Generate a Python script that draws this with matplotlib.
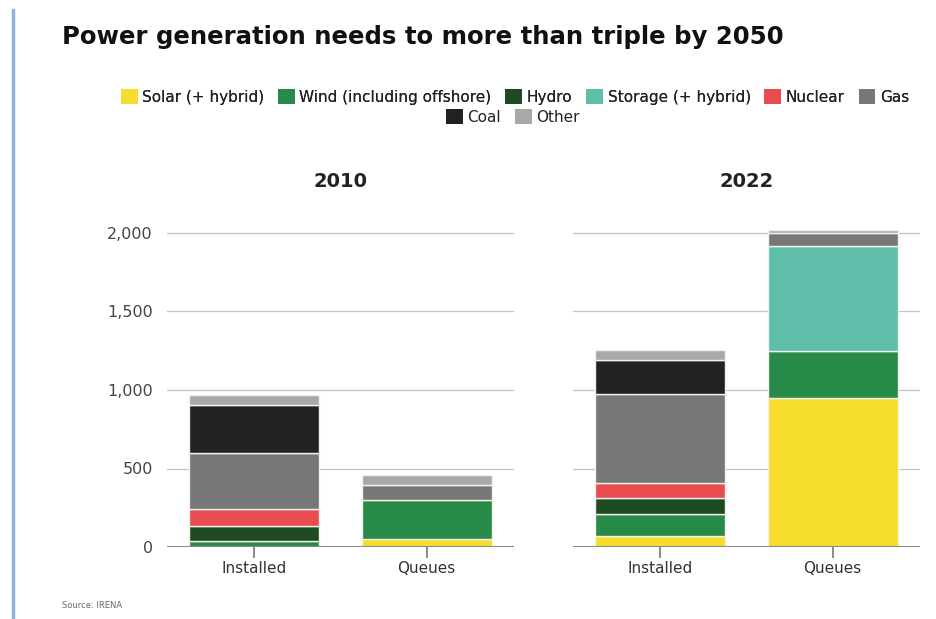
import matplotlib.pyplot as plt
from matplotlib.patches import Patch
from matplotlib.lines import Line2D

plt.rcParams["font.family"] = ["DejaVu Sans"]

# data (GW)
sources = ["Solar (+ hybrid)", "Wind (including offshore)", "Hydro", "Storage (+ hybrid)",
           "Nuclear", "Gas", "Coal", "Other"]
colors = ["#f6dc2c", "#288a48", "#1e4a24", "#5fbeaa", "#e84c51", "#777777", "#222222", "#a8a8a8"]
categories = ["Installed", "Queues"]
years = ["2010", "2022"]

installed_2010 = [0, 40, 95, 0, 105, 360, 305, 65]
queues_2010 = [50, 250, 0, 0, 0, 95, 0, 62]
installed_2022 = [72, 138, 100, 0, 100, 567, 212, 68]
queues_2022 = [950, 297, 0, 670, 0, 85, 0, 20]

panels = {
    "2010": [installed_2010, queues_2010],
    "2022": [installed_2022, queues_2022],
}
yticks = [0, 500, 1000, 1500, 2000]

fig = plt.figure(figsize=(9.37, 6.19), dpi=100)

ax_bottom = 1 - 547 / 619
ax_height = 2100 * 0.157 / 619
ax_left = fig.add_axes([166.7 / 937, ax_bottom, 347 / 937, ax_height])
ax_right = fig.add_axes([572.7 / 937, ax_bottom, 347 / 937, ax_height])

for ax, year in zip([ax_left, ax_right], years):
    for xi, vals in enumerate(panels[year]):
        base = 0
        for v, c in zip(vals, colors):
            if v <= 0:
                continue
            ax.bar(xi, v, bottom=base, width=0.75, color=c, edgecolor="#f2f2ea",
                   linewidth=1.0, zorder=3)
            base += v
    ax.set_xlim(-0.503, 1.503)
    ax.set_ylim(0, 2100)
    ax.set_yticks(yticks)
    for t in yticks[1:]:
        ax.axhline(t, color="#c4c4c4", lw=0.9, zorder=1)
    ax.axhline(0, color="#8a8a8a", lw=2.2, zorder=4)
    for s in ax.spines.values():
        s.set_visible(False)
    ax.set_xticks([0, 1])
    ax.set_xticklabels(categories, fontsize=11, color="#333333")
    ax.tick_params(axis="x", length=8, width=1.2, color="#777777", pad=2)
    ax.set_title(year, fontsize=14, fontweight="bold", color="#222222", pad=22)

ax_left.set_yticklabels([f"{t:,}" for t in yticks], fontsize=11.5, color="#444444")
ax_left.tick_params(axis="y", length=0, pad=10)
ax_right.tick_params(axis="y", length=0, labelleft=False)

fig.text(62 / 937, 1 - 37 / 619, "Power generation needs to more than triple by 2050",
         fontsize=17.6, fontweight="heavy", color="#111111", va="center", ha="left")

handles = [Patch(facecolor=c, edgecolor="none") for c in colors]
leg1 = fig.legend(handles[:6], sources[:6], loc="center", bbox_to_anchor=(515 / 937, 1 - 97 / 619),
                  ncol=6, frameon=False, fontsize=11, handlelength=1.1, handleheight=1.1,
                  handletextpad=0.3, columnspacing=0.9, labelcolor="#222222")
fig.add_artist(leg1)
fig.legend(handles[6:], sources[6:], loc="center", bbox_to_anchor=(513 / 937, 1 - 117 / 619),
           ncol=2, frameon=False, fontsize=11, handlelength=1.1, handleheight=1.1,
           handletextpad=0.3, columnspacing=0.9, labelcolor="#222222")

fig.text(62 / 937, 1 - 605 / 619, "Source: IRENA", fontsize=6, color="#666666", va="center")

fig.add_artist(Line2D([13 / 937, 13 / 937], [0, 1 - 10 / 619], color="#8fb4de", lw=2.5))

fig.savefig("out.png", dpi=100)
